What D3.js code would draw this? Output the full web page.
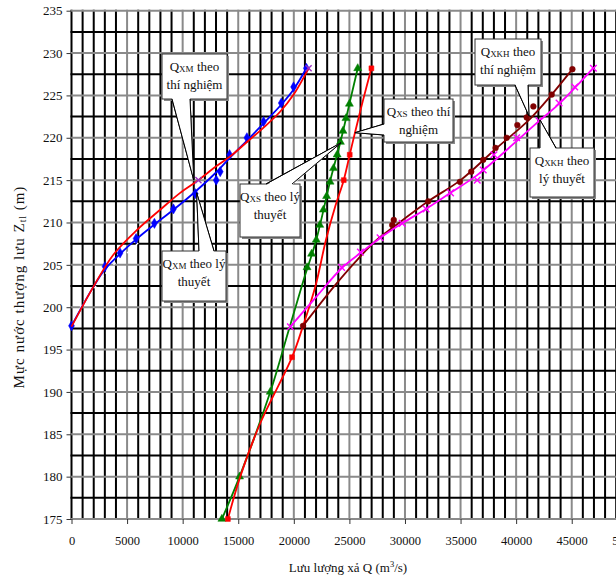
<!DOCTYPE html>
<html><head><meta charset="utf-8">
<script src="https://cdn.jsdelivr.net/npm/d3@7"></script>
<style>
html,body{margin:0;padding:0;background:#fff;}
svg{display:block;font-family:"Liberation Serif","Times New Roman",serif;}
</style></head><body>
<svg id="chart" width="616" height="578" font-family="Liberation Serif, Times New Roman, serif"></svg>
<script>
// Axis ticks
const xTickValues = [0, 5000, 10000, 15000, 20000, 25000, 30000, 35000, 40000, 45000, 50000];
const yTickValues = [175, 180, 185, 190, 195, 200, 205, 210, 215, 220, 225, 230, 235];
const xGridStep = 1000;
const yGridStep = 2.5;

// Q_XM theo lý thuyết (blue): curve and markers  [Q (m3/s), Z (m)]
const xmTheoryLine = [[0,197.8],[1964,202.4],[3018,204.5],[4370,206.3],[5810,208.0],[7500,209.8],[9170,211.5],[11100,213.6],[13000,215.9],[14220,217.6],[15800,219.7],[17280,221.7],[18860,223.9],[19980,225.7],[21130,228.2]];
const xmTheoryPts = [[0,197.8],[3018,204.8],[4370,206.4],[5810,208.1],[7460,209.9],[9170,211.6],[11130,213.4],[13020,215.0],[13380,216.0],[14220,218.0],[15780,220.0],[17280,221.9],[18870,224.1],[19980,226.0],[21130,228.2]];

// Q_XM theo thí nghiệm (red)
const xmTestLine = [[0,197.7],[1964,202.4],[3766,206.2],[5874,209.1],[7973,211.5],[9775,213.5],[11420,215.0],[12775,216.4],[14280,217.8],[15784,219.5],[17280,221.2],[18784,223.1],[19982,225.1],[21330,228.2]];
const xmTestPts = [[11420,215.0],[21330,228.2]];

// faint dashed trace beside the Q_XM curves
const xmTrace = [[470,199.4],[1800,201.8],[3470,204.6],[5000,206.4],[6800,208.5]];

// Q_XS theo lý thuyết (green)
const xsTheoryLine = [[13530,175],[15120,180],[17880,190],[19500,197.1],[20880,203.2],[22030,208.0],[23290,215.0],[24190,219.5],[25000,224.0],[25750,228.2]];
const xsTheoryPts = [[13530,175],[15120,180],[17880,190],[21190,204.7],[21600,206.3],[22020,207.95],[22336,209.7],[22660,211.5],[22950,213.1],[23260,214.8],[23570,216.4],[23900,218.0],[24190,219.5],[24420,220.8],[24690,222.3],[25000,224.0],[25750,228.2]];

// Q_XS theo thí nghiệm (red)
const xsTestLine = [[14070,175],[15180,180],[16980,186.3],[19840,194.1],[20830,197.8],[21950,202.5],[22900,208.0],[23750,212.0],[24490,215.0],[25030,218.0],[25500,220.6],[26200,224.3],[26980,228.2]];
const xsTestPts = [[14070,175],[19840,194.1],[24490,215.0],[25030,218.0],[26980,228.2]];

// Q_XKH theo thí nghiệm (maroon)
const xkhTestLine = [[20830,197.8],[23590,202.4],[25500,205.3],[27500,208.0],[29000,209.5],[32090,212.5],[35000,215.0],[38000,218.5],[41300,222.3],[43200,225.1],[45060,228.1]];
const xkhTestPts = [[20830,197.8],[28850,209.7],[28990,210.3],[32090,212.5],[34940,214.8],[35960,216.0],[37040,217.4],[38150,218.8],[39150,220.0],[40110,221.5],[40950,222.4],[41550,223.7],[43200,225.1],[45060,228.1]];

// Q_XKH theo lý thuyết (magenta)
const xkhTheoryLine = [[19690,197.7],[22000,201.2],[24300,204.6],[26000,206.4],[27800,208.2],[29750,209.9],[31900,211.6],[34100,213.5],[36400,215.5],[38500,217.8],[40200,219.8],[42000,221.9],[43860,224.0],[45360,226.0],[46900,228.2]];
const xkhTheoryPts = [[19690,197.7],[24300,204.7],[25990,206.5],[27760,208.2],[29750,209.9],[31900,211.6],[34100,213.5],[36500,215.0],[37040,216.2],[38000,218.0],[40050,220.0],[42050,222.0],[43860,224.1],[45270,226.0],[46950,228.2]];

// Callout labels: anchor point in data units, box in pixels
const callouts = [
  {sub:"XM",  l1:" theo",     l2:"thí nghiệm", tip:[11000,215.0], box:[162,54,65,45],  base:[[172,99],[190,99]]},
  {sub:"XM",  l1:" theo lý",  l2:"thuyết",     tip:[11260,213.5], box:[162,251,64,50], base:[[199,251],[214,251]]},
  {sub:"XS",  l1:" theo lý",  l2:"thuyết",     tip:[24240,219.4], box:[240,184,60,53], base:[[266,184],[292,184]]},
  {sub:"XS",  l1:" theo thí", l2:"nghiệm",     tip:[25500,220.6], box:[384,99,69,43],  base:[[384,124],[384,135]]},
  {sub:"XKH", l1:" theo",     l2:"thí nghiệm", tip:[41150,222.6], box:[475,39,66,46],  base:[[515,85],[528,85]]},
  {sub:"XKH", l1:" theo",     l2:"lý thuyết",  tip:[42150,222.1], box:[530,148,64,49], base:[[540,148],[556,148]]}
];

const FONT = '"Liberation Serif","Times New Roman",serif';
const svg = d3.select("#chart");
const x = d3.scaleLinear().domain([0, 50000]).range([71.5, 627.3]);
const y = d3.scaleLinear().domain([175, 235]).range([519, 10.7]);

// grid
const grid = svg.append("g");
const qLines = d3.range(0, 50000 + 1, xGridStep);
const zLines = d3.range(175, 235 + 0.01, yGridStep);
grid.selectAll("line.v").data(qLines).join("line")
  .attr("x1", d => x(d)).attr("x2", d => x(d))
  .attr("y1", y(175) + 1).attr("y2", y(235) - 1)
  .attr("stroke", d => (d % 5000 === 0 && d !== 0) ? "#8a8a8a" : "#000")
  .attr("stroke-width", 2);
grid.selectAll("line.h").data(zLines).join("line")
  .attr("x1", x(0) - 1).attr("x2", x(50000))
  .attr("y1", d => y(d)).attr("y2", d => y(d))
  .attr("stroke", d => (Math.abs(d % 5) < 1e-6) ? "#8a8a8a" : "#000")
  .attr("stroke-width", 2);

// axes
const xAxis = d3.axisBottom(x).tickValues(xTickValues).tickSize(5).tickPadding(12).tickFormat(d3.format("d"));
const gx = svg.append("g").attr("transform", `translate(0,${y(175)})`).call(xAxis)
  .attr("font-family", FONT);
gx.select(".domain").remove();
gx.selectAll("line").attr("stroke", "#333");
gx.selectAll("text").attr("font-size", 12.5).attr("fill", "#111");

const yAxis = d3.axisLeft(y).tickValues(yTickValues).tickSize(5).tickPadding(4);
const gy = svg.append("g").attr("transform", `translate(${x(0)},0)`).call(yAxis)
  .attr("font-family", FONT);
gy.select(".domain").remove();
gy.selectAll("line").attr("stroke", "#333");
gy.selectAll("text").attr("font-size", 13).attr("fill", "#111");

// axis titles
const xt = svg.append("text").attr("x", 348).attr("y", 572).attr("text-anchor", "middle")
  .attr("font-size", 13).attr("fill", "#111");
xt.append("tspan").text("Lưu lượng xả Q (m");
xt.append("tspan").attr("font-size", 8.5).attr("dy", -5).text("3");
xt.append("tspan").attr("dy", 5).text("/s)");

const yt = svg.append("text").attr("transform", "translate(24,287) rotate(-90)")
  .attr("text-anchor", "middle").attr("font-size", 15).attr("letter-spacing", 1)
  .attr("fill", "#111");
yt.append("tspan").text("Mực nước thượng lưu Z");
yt.append("tspan").attr("font-size", 9.5).attr("dy", 2).text("tl");
yt.append("tspan").attr("dy", -2).text(" (m)");

// series
const line = d3.line().x(d => x(d[0])).y(d => y(d[1])).curve(d3.curveCatmullRom.alpha(0.5));
const plot = svg.append("g");

plot.append("path").datum(xmTrace).attr("d", line).attr("fill", "none")
  .attr("stroke", "#fff").attr("stroke-width", 1.3).attr("stroke-dasharray", "3,3");

const series = [
  {line: xsTheoryLine,  pts: xsTheoryPts,  color: "#008000", sym: d3.symbolTriangle, size: 28, mcolor: "#008000"},
  {line: xsTestLine,    pts: xsTestPts,    color: "#ff0000", sym: d3.symbolSquare,   size: 24, mcolor: "#ff0000"},
  {line: xkhTestLine,   pts: xkhTestPts,   color: "#800000", sym: d3.symbolCircle,   size: 26, mcolor: "#800000"},
  {line: xkhTheoryLine, pts: xkhTheoryPts, color: "#ff00ff", sym: d3.symbolX,        size: 30, mcolor: "#ff00ff", stroke: true},
  {line: xmTheoryLine,  pts: xmTheoryPts,  color: "#0000ff", sym: d3.symbolDiamond,  size: 30, mcolor: "#0000ff"},
  {line: xmTestLine,    pts: xmTestPts,    color: "#ff0000", sym: d3.symbolX,        size: 26, mcolor: "#9b30c0", stroke: true}
];
series.forEach(s => {
  plot.append("path").datum(s.line).attr("d", line).attr("fill", "none")
    .attr("stroke", s.color).attr("stroke-width", 1.8);
  const sym = d3.symbol().type(s.sym).size(s.size);
  plot.append("g").selectAll("path").data(s.pts).join("path")
    .attr("transform", d => `translate(${x(d[0])},${y(d[1])})`)
    .attr("d", sym)
    .attr("fill", s.stroke ? "none" : s.mcolor)
    .attr("stroke", s.mcolor)
    .attr("stroke-width", s.stroke ? 1.4 : 0.5);
});

// callouts
const notes = svg.append("g").attr("font-family", FONT);
callouts.forEach(c => {
  const [bx, by, bw, bh] = c.box;
  const tip = [x(c.tip[0]), y(c.tip[1])];
  const g = notes.append("g");
  g.append("rect").attr("x", bx + 2).attr("y", by + 2).attr("width", bw).attr("height", bh).attr("fill", "#888");
  g.append("path").attr("d", `M${c.base[0][0]},${c.base[0][1]}L${tip[0]},${tip[1]}L${c.base[1][0]},${c.base[1][1]}Z`)
    .attr("fill", "#fff").attr("stroke", "#000").attr("stroke-width", 1);
  g.append("rect").attr("x", bx).attr("y", by).attr("width", bw).attr("height", bh)
    .attr("fill", "#fff").attr("stroke", "#333").attr("stroke-width", 1);
  // open the border where the pointer joins the box
  const inset = c.base[0][0] === c.base[1][0] ? [1.2, 0] : [0, (c.base[0][1] === by ? 1.2 : -1.2)];
  g.append("path").attr("d", `M${c.base[0][0]+inset[0]},${c.base[0][1]+inset[1]}L${tip[0]},${tip[1]}L${c.base[1][0]+inset[0]},${c.base[1][1]+inset[1]}Z`)
    .attr("fill", "#fff").attr("stroke", "none");
  g.append("path").attr("d", `M${c.base[0][0]},${c.base[0][1]}L${tip[0]},${tip[1]}L${c.base[1][0]},${c.base[1][1]}`)
    .attr("fill", "none").attr("stroke", "#000").attr("stroke-width", 1);
  const cx = bx + bw / 2;
  const t1 = g.append("text").attr("x", cx).attr("y", by + 17).attr("text-anchor", "middle")
    .attr("font-size", 13).attr("fill", "#111");
  t1.append("tspan").text("Q");
  t1.append("tspan").attr("font-size", 9).attr("dy", 1).text(c.sub);
  t1.append("tspan").attr("dy", -1).text(c.l1);
  g.append("text").attr("x", cx).attr("y", by + 35).attr("text-anchor", "middle")
    .attr("font-size", 13).attr("fill", "#111").text(c.l2);
});
</script>
</body></html>
